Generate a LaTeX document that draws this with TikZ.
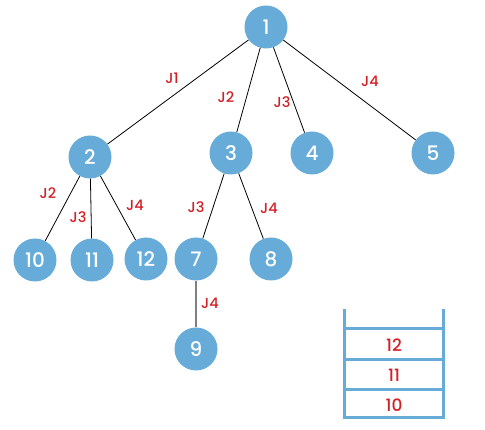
\documentclass[tikz,border=0pt]{standalone}
\usepackage{fontspec}
\setmainfont{Poppins Medium}
\usepackage{tikz}
\usetikzlibrary{positioning}
\definecolor{nodeblue}{RGB}{103,172,217}
\definecolor{jred}{RGB}{211,32,39}
\definecolor{edgegray}{RGB}{128,128,128}

\begin{document}
\begin{tikzpicture}[x=1pt,y=-1pt,
  vert/.style={circle,fill=nodeblue,text=white,minimum size=43pt,inner sep=0pt,font=\fontsize{20}{20}\selectfont},
  jlab/.style={text=jred,font=\fontsize{14.5}{14.5}\selectfont,inner sep=0pt},
  edge/.style={draw=black,line width=0.8pt},
  stackline/.style={draw=nodeblue,line width=3pt},
  stacktxt/.style={text=jred,font=\fontsize{17}{17}\selectfont,inner sep=0pt}]
  \useasboundingbox (0,0) rectangle (485,430);
  % tree
  \node[vert] (n1) at (266,27) {1};
  \node[vert] (n2) at (90,157) {2};
  \node[vert] (n3) at (231,153) {3};
  \node[vert] (n4) at (312,153) {4};
  \node[vert] (n5) at (433,153) {5};
  \node[vert] (n10) at (35,260) {10};
  \node[vert] (n11) at (92,260) {11};
  \node[vert] (n12) at (146,259) {12};
  \node[vert] (n7) at (196,259) {7};
  \node[vert] (n8) at (271,259) {8};
  \node[vert] (n9) at (196,349) {9};
  \draw[edge] (n1) -- (n2);
  \draw[edge] (n1) -- (n3);
  \draw[edge] (n1) -- (n4);
  \draw[edge] (n1) -- (n5);
  \draw[edge] (n2) -- (n10);
  \draw[edge] (n2) -- (n11);
  \draw[edge] (n2) -- (n12);
  \draw[edge] (n3) -- (n7);
  \draw[edge] (n3) -- (n8);
  \draw[draw=edgegray,line width=2pt] (n7) -- (n9);
  % edge labels
  \node[jlab] (l12) at (172,78) {J1};
  \node[jlab] (l13) at (226,97) {J2};
  \node[jlab] (l14) at (282,102) {J3};
  \node[jlab] (l15) at (370,81) {J4};
  \node[jlab] (l210) at (48,193) {J2};
  \node[jlab] (l211) at (78,217) {J3};
  \node[jlab] (l212) at (135,205) {J4};
  \node[jlab] (l37) at (196,207) {J3};
  \node[jlab] (l38) at (269,208) {J4};
  \node[jlab] (l79) at (210,303) {J4};
  % stack
  \draw[stackline] (344,309) -- (344,418) -- (443,418) -- (443,309);
  \draw[stackline] (344,329) -- (443,329);
  \draw[stackline] (344,360) -- (443,360);
  \draw[stackline] (344,390) -- (443,390);
  \node[stacktxt] (s12) at (394,345) {12};
  \node[stacktxt] (s11) at (394,375) {11};
  \node[stacktxt] (s10) at (394,405) {10};
\end{tikzpicture}
\end{document}
